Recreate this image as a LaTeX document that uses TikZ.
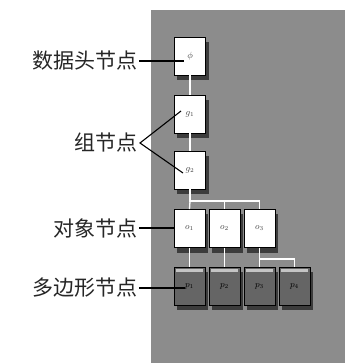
\documentclass[tikz,border=0pt]{standalone}
\usepackage{fontspec}
\newfontfamily\cjk{Noto Sans CJK SC}
\usetikzlibrary{backgrounds}
\definecolor{panelgray}{HTML}{8C8C8C}
\definecolor{polyfill}{HTML}{656565}
\definecolor{stripgray}{HTML}{C4C4C4}
\definecolor{shadowgray}{HTML}{3C3C3C}
\begin{document}
\begin{tikzpicture}[x=1pt,y=-1pt,
  boxbase/.style={draw=black,line width=0.9pt,minimum width=31pt,minimum height=38pt,inner sep=0pt,
    font=\fontsize{9}{10}\selectfont,text=black!75},
  whitebox/.style={boxbase,fill=white},
  polybox/.style={boxbase,fill=polyfill,text=black,
    path picture={\fill[stripgray] ([xshift=2pt,yshift=-2pt]path picture bounding box.north west) rectangle ([xshift=-2pt,yshift=-4.5pt]path picture bounding box.north east);}},
  wire/.style={draw=white,line width=1.3pt},
  pointer/.style={draw=black,line width=1.1pt},
  lab/.style={font=\cjk\fontsize{21}{24}\selectfont,text=black!85,inner sep=1pt,anchor=east}]
\useasboundingbox (0,0) rectangle (352,363);

% nodes
\node[whitebox] (head) at (190,56) {$\phi$};
\node[whitebox] (g1) at (190,114) {$g_1$};
\node[whitebox] (g2) at (190,170) {$g_2$};
\node[whitebox] (o1) at (189.5,228.5) {$o_1$};
\node[whitebox] (o2) at (224.5,228.5) {$o_2$};
\node[whitebox] (o3) at (259.5,228.5) {$o_3$};
\node[polybox] (p1) at (189.5,286) {$p_1$};
\node[polybox] (p2) at (224.5,286) {$p_2$};
\node[polybox] (p3) at (259.5,286) {$p_3$};
\node[polybox] (p4) at (294.5,286) {$p_4$};

\begin{scope}[on background layer]
\fill[white] (0,0) rectangle (352,363);
\fill[panelgray] (151,10) rectangle (345,363);
\foreach \n in {head,g1,g2,o1,o2,o3,p1,p2,p3,p4}
  \fill[shadowgray] ([xshift=3pt,yshift=-5pt]\n.south west) rectangle ([xshift=3pt,yshift=-5pt]\n.north east);
\end{scope}

% white connectors
\coordinate (b1) at (190,201);
\coordinate (b2) at (259.5,259);
\draw[wire] (head.south) -- (g1.north);
\draw[wire] (g1.south) -- (g2.north);
\draw[wire] (g2.south) -- (b1) -| (o3.north);
\draw[wire] (b1) -- (o1.north);
\draw[wire] (b1) -| (o2.north);
\draw[wire] (o1.south) -- (p1.north);
\draw[wire] (o2.south) -- (p2.north);
\draw[wire] (o3.south) -- (p3.north);
\draw[wire] (b2) -| (p4.north);

% labels
\node[lab] (lhead) at (139,61) {数据头节点};
\node[lab] (lgroup) at (139,143) {组节点};
\node[lab] (lobj) at (139,228) {对象节点};
\node[lab] (lpoly) at (139,288) {多边形节点};
\coordinate (tg1) at (181,111);
\coordinate (tg2) at (183,173);
\coordinate (thead) at (184,61);
\coordinate (tp1) at (185,288);
\draw[pointer] (lhead.east) -- (thead);
\draw[pointer] (tg1) -- ([xshift=1pt]lgroup.east) -- (tg2);
\draw[pointer] (lobj.east) -- (o1.west |- lobj.east);
\draw[pointer] (lpoly.east) -- (tp1);
\end{tikzpicture}
\end{document}
